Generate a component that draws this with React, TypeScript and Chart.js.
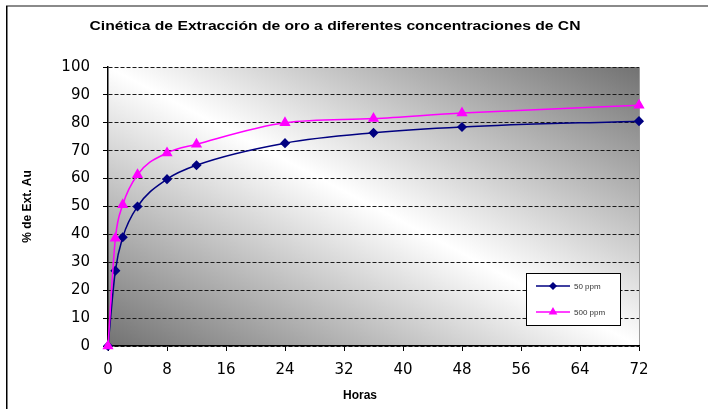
import React, { useEffect, useRef } from "react";
import { Chart, registerables } from "chart.js";
import { drawPoint } from "chart.js/helpers";

Chart.register(...registerables);

// Extraction kinetics: % gold extracted vs. leaching time
const hours = [0, 1, 2, 4, 8, 12, 24, 36, 48, 72];
const ext50ppm = [0, 27, 39, 50, 59.8, 64.8, 72.7, 76.4, 78.5, 80.6];
const ext500ppm = [0, 38.6, 50.6, 61.4, 69.2, 72.3, 80, 81.5, 83.5, 86.3];
const seriesLabels = ["50 ppm", "500 ppm"];
const seriesColors = ["#000080", "#FF00FF"];
const seriesMarkers = ["rectRot", "triangle"];

const hourTicks = [0, 8, 16, 24, 32, 40, 48, 56, 64, 72];
const percentTicks = [0, 10, 20, 30, 40, 50, 60, 70, 80, 90, 100];

const chartTitle = "Cinética de Extracción de oro a diferentes concentraciones de CN";
const xAxisTitle = "Horas";
const yAxisTitle = "% de Ext. Au";

const W = 708;
const H = 409;
const textFont = "'Liberation Sans', Arial, sans-serif";
const tickFont = "'DejaVu Sans', sans-serif";

const decorPlugin = {
  id: "decor",
  beforeDraw(chart: any) {
    const { ctx, chartArea: a, width, height } = chart;
    ctx.save();
    ctx.fillStyle = "#ffffff";
    ctx.fillRect(0, 0, width, height);

    // outer chart frame (top and left edges)
    ctx.fillStyle = "#8a8a8a";
    ctx.fillRect(6, 5, width - 6, 2);
    ctx.fillStyle = "#000000";
    ctx.fillRect(6, 6, 1.5, height - 6);

    // diagonal two-tone gradient in the plot area
    const w = a.right - a.left;
    const h = a.bottom - a.top;
    const k = 2 / (1 / (w * w) + 1 / (h * h));
    const g = ctx.createLinearGradient(a.left, a.bottom, a.left + k / w, a.bottom - k / h);
    g.addColorStop(0, "#727272");
    g.addColorStop(0.5, "#ffffff");
    g.addColorStop(1, "#727272");
    ctx.fillStyle = g;
    ctx.fillRect(a.left, a.top, w, h);

    // right edge of plot area
    ctx.strokeStyle = "#9c9c9c";
    ctx.lineWidth = 1;
    ctx.beginPath();
    ctx.moveTo(a.right + 0.5, a.top);
    ctx.lineTo(a.right + 0.5, a.bottom);
    ctx.stroke();
    ctx.restore();
  },
  afterDraw(chart: any) {
    const { ctx, chartArea: a } = chart;
    ctx.save();

    // chart title
    ctx.fillStyle = "#000000";
    ctx.font = `bold 12px ${textFont}`;
    ctx.textBaseline = "middle";
    ctx.textAlign = "center";
    const tw = ctx.measureText(chartTitle).width;
    const sx = 491 / tw;
    ctx.save();
    ctx.translate(335, 27);
    ctx.scale(sx, 1);
    ctx.fillText(chartTitle, 0, 0);
    ctx.restore();

    // x axis title
    ctx.font = `bold 12px ${textFont}`;
    ctx.fillText(xAxisTitle, 360, 396);

    // legend box
    const bx = a.right - 113;
    const by = a.bottom - 73;
    const bw = 94;
    const bh = 52;
    ctx.fillStyle = "#ffffff";
    ctx.fillRect(bx, by, bw, bh);
    ctx.strokeStyle = "#000000";
    ctx.lineWidth = 1;
    ctx.strokeRect(bx + 0.5, by + 0.5, bw, bh);

    ctx.font = `8px ${textFont}`;
    ctx.textAlign = "left";
    seriesLabels.forEach((label, i) => {
      const y = by + 13 + i * 26;
      ctx.strokeStyle = seriesColors[i];
      ctx.lineWidth = 1.5;
      ctx.beginPath();
      ctx.moveTo(bx + 10, y);
      ctx.lineTo(bx + 44, y);
      ctx.stroke();
      ctx.fillStyle = seriesColors[i];
      drawPoint(
        ctx,
        { pointStyle: seriesMarkers[i], radius: i === 0 ? 3 : 3.5, borderWidth: 1, rotation: 0 } as any,
        bx + 27,
        y
      );
      ctx.fillStyle = "#333333";
      ctx.fillText(label, bx + 48, y + 1);
    });
    ctx.restore();
  },
};

export default function App() {
  const canvasRef = useRef<HTMLCanvasElement | null>(null);

  useEffect(() => {
    document.body.style.margin = "0";
    const canvas = canvasRef.current;
    if (!canvas) return;

    const toPoints = (ys: number[]) => hours.map((x, i) => ({ x, y: ys[i] }));

    const chart = new Chart(canvas, {
      type: "line",
      data: {
        datasets: [ext50ppm, ext500ppm].map((ys, i) => ({
          label: seriesLabels[i],
          data: toPoints(ys),
          borderColor: seriesColors[i],
          backgroundColor: seriesColors[i],
          pointBackgroundColor: seriesColors[i],
          pointBorderColor: seriesColors[i],
          pointStyle: seriesMarkers[i] as any,
          pointRadius: i === 0 ? 4 : 5,
          borderWidth: 1.5,
          cubicInterpolationMode: "monotone" as const,
          fill: false,
          clip: false,
          // the 500 ppm series is drawn over the 50 ppm one
          order: i === 0 ? 1 : 0,
        })),
      },
      plugins: [decorPlugin],
      options: {
        animation: false,
        responsive: false,
        devicePixelRatio: 1,
        events: [],
        layout: { padding: { top: 67, left: 8, right: 69, bottom: 0 } },
        plugins: {
          legend: { display: false },
          title: { display: false },
          tooltip: { enabled: false },
        },
        scales: {
          x: {
            type: "linear",
            min: 0,
            max: 72,
            afterBuildTicks: (s: any) => {
              s.ticks = hourTicks.map((v) => ({ value: v }));
            },
            afterFit: (s: any) => {
              s.height = 63;
            },
            grid: {
              drawOnChartArea: false,
              drawTicks: true,
              tickLength: 5,
              tickColor: "#000000",
              tickWidth: 1,
            },
            border: { display: true, color: "#000000", width: 1.5 },
            ticks: {
              color: "#000000",
              padding: 10,
              maxRotation: 0,
              autoSkip: false,
              font: { family: tickFont, size: 15 },
            },
            title: { display: false },
          },
          y: {
            type: "linear",
            min: 0,
            max: 100,
            afterBuildTicks: (s: any) => {
              s.ticks = percentTicks.map((v) => ({ value: v }));
            },
            afterFit: (s: any) => {
              s.width = 100;
            },
            grid: {
              color: "#1a1a1a",
              lineWidth: 1,
              drawTicks: true,
              tickLength: 5,
              tickColor: "#000000",
              tickWidth: 1,
            },
            border: { display: true, color: "#000000", width: 1.5, dash: [4, 2] },
            ticks: {
              color: "#000000",
              padding: 13,
              autoSkip: false,
              font: { family: tickFont, size: 15 },
            },
            title: {
              display: true,
              text: yAxisTitle,
              color: "#000000",
              font: { family: textFont, size: 12, weight: "bold" },
              padding: { top: 12, bottom: 0 },
            },
          },
        },
      } as any,
    });

    return () => chart.destroy();
  }, []);

  return (
    <div style={{ position: "absolute", left: 0, top: 0, width: W, height: H }}>
      <canvas ref={canvasRef} width={W} height={H} style={{ display: "block" }} />
    </div>
  );
}
